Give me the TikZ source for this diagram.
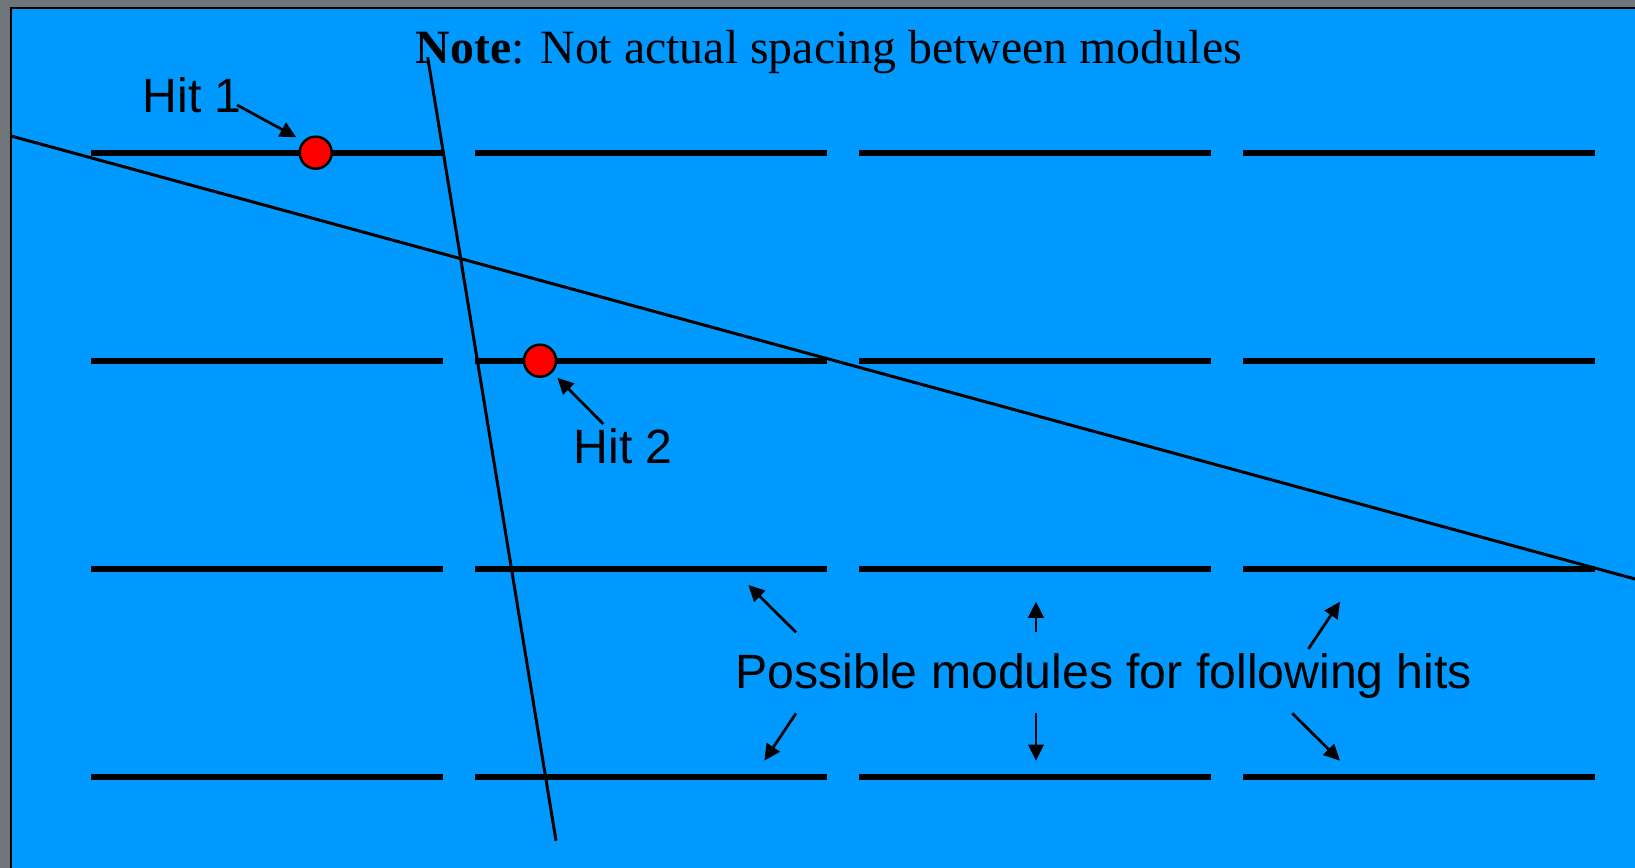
\documentclass[tikz,border=0pt]{standalone}
\usepackage{fontspec}
\setmainfont{Liberation Serif}
\newfontfamily\arialfont{Liberation Sans}
\usetikzlibrary{arrows.meta}
\definecolor{slideblue}{RGB}{0,153,255}
\definecolor{hitred}{RGB}{255,0,0}
\definecolor{framegray}{RGB}{112,117,122}

\begin{document}
\begin{tikzpicture}[x=0.01cm, y=-0.01cm,
    module/.style={line width=1.7pt},
    track/.style={line width=0.85pt},
    hit/.style={circle, fill=hitred, draw=black, line width=0.7pt, minimum size=0.32cm, inner sep=0pt},
    lbl/.style={font=\arialfont\fontsize{13.7}{16}\selectfont, inner sep=0pt, anchor=base west},
    pointer/.style={line width=0.77pt, -{Triangle[length=4.6pt, width=4.4pt]}}]
    \useasboundingbox (0,0) rectangle (1635,868);
    % slide frame and blue panel
    \fill[framegray] (0,0) rectangle (1635,868);
    \fill[slideblue] (11,8) rectangle (1635,868);
    \draw[line width=0.6pt] (11,868) -- (11,8) -- (1635,8);

    % detector modules: 4 layers x 4 modules
    \foreach \row in {0,...,3}
      \foreach \col in {0,...,3}
        \draw[module] ({91+384*\col},{152.7+208*\row}) -- ++(352,0);

    % two candidate tracks
    \coordinate (trkA-in) at (11,136);
    \coordinate (trkA-out) at (1635,579);
    \coordinate (trkB-in) at (427.7,57.3);
    \coordinate (trkB-out) at (556,840.7);
    \draw[track] (trkA-in) -- (trkA-out);
    \draw[track] (trkB-in) -- (trkB-out);

    % hits
    \node[hit] (hit1) at (315.7,152.7) {};
    \node[hit] (hit2) at (540,360.7) {};

    % labels
    \node[font=\fontsize{13.6}{16}\selectfont, inner sep=0pt, anchor=base west] (note) at (415,64)
        {\textbf{Note}: Not actual spacing between modules};
    \node[lbl] (hit1lbl) at (142,113) {Hit 1};
    \node[lbl] (hit2lbl) at (573,464) {Hit 2};
    \node[lbl] (possible) at (735,689) {Possible modules for following hits};

    % pointers to the hits
    \coordinate (hit1tail) at (237,105);
    \coordinate (hit2tail) at (603.3,424);
    \draw[pointer, shorten >=2.2pt] (hit1tail) -- (hit1.137);
    \draw[pointer, shorten >=2pt] (hit2tail) -- (hit2.-44);

    % pointers to the possible modules
    \foreach \n/\tx/\ty/\hx/\hy in {ul/796/632.3/748.3/585, um/1036/632.3/1036/601.7,
                                    ur/1308.3/649/1340/601.7, ll/796/713.3/764.3/760.7,
                                    lm/1036/713.3/1036/760.7, lr/1292.3/713.3/1340/760.7}{
      \coordinate (pm-\n-tail) at (\tx,\ty);
      \coordinate (pm-\n-tip) at (\hx,\hy);
      \draw[pointer] (pm-\n-tail) -- (pm-\n-tip);
    }
\end{tikzpicture}
\end{document}
